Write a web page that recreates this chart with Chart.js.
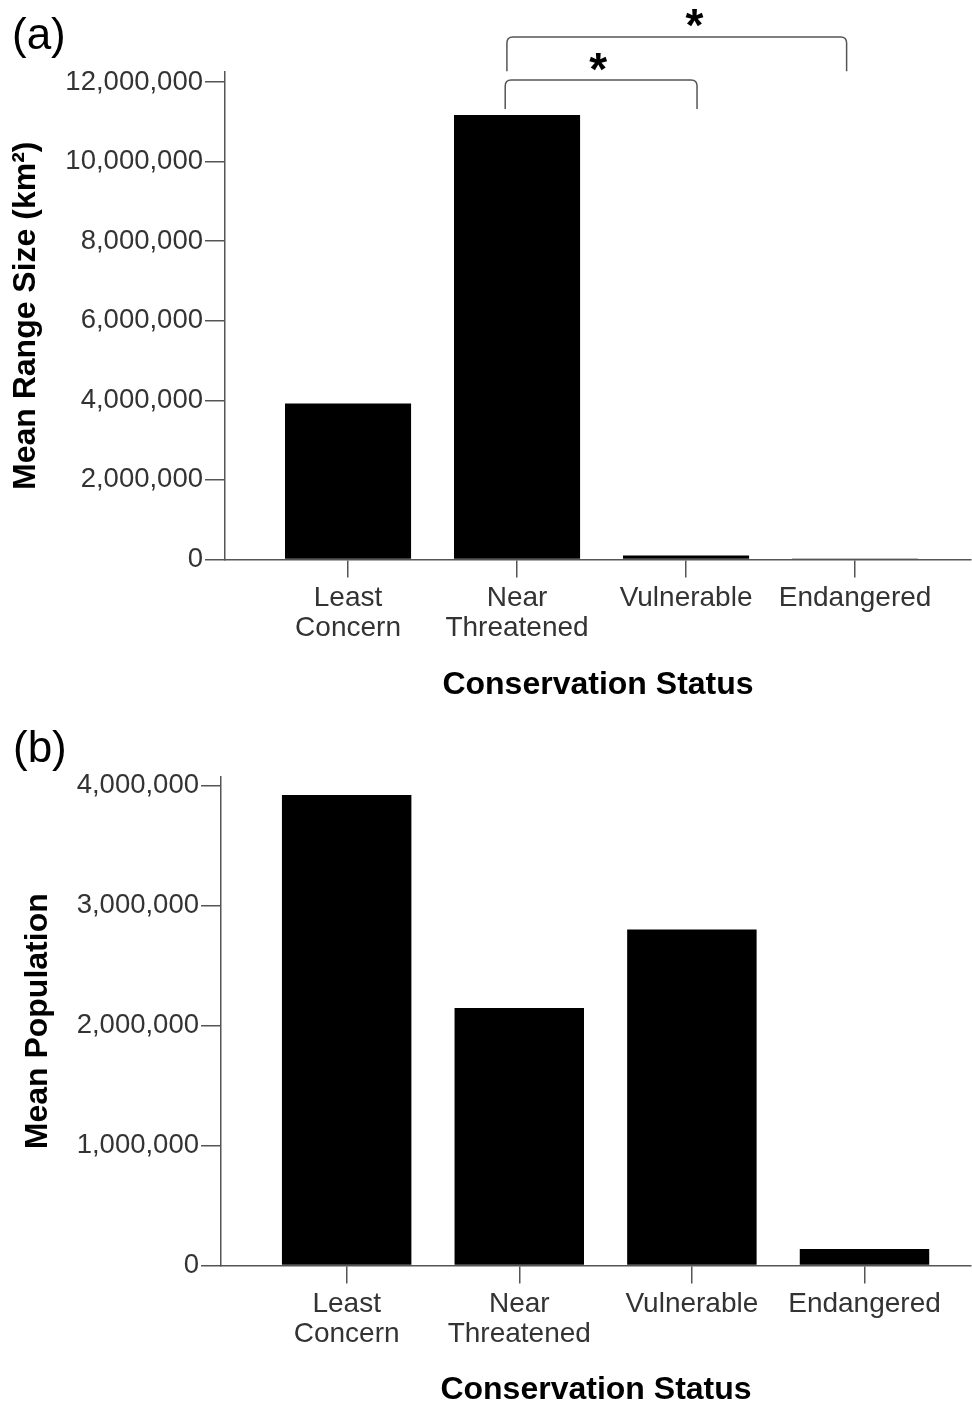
<!DOCTYPE html>
<html>
<head>
<meta charset="utf-8">
<script src="https://cdn.jsdelivr.net/npm/chart.js@4.4.0/dist/chart.umd.min.js"></script>
<style>
  body { margin: 0; background: #fff; }
  #wrapA { position: absolute; left: 0; top: 0; width: 972px; height: 705px; }
  #wrapB { position: absolute; left: 0; top: 705px; width: 972px; height: 698px; }
</style>
</head>
<body>
<div id="wrapA"><canvas id="chartA" width="972" height="705"></canvas></div>
<div id="wrapB"><canvas id="chartB" width="972" height="698"></canvas></div>
<script>
// categories and values
const categories = [['Least', 'Concern'], ['Near', 'Threatened'], 'Vulnerable', 'Endangered'];
const meanRange = [3920000, 11170000, 100000, 25000];
const meanPopulation = [3920000, 2145000, 2800000, 137000];
const rangeTicks = [0, 2000000, 4000000, 6000000, 8000000, 10000000, 12000000];
const populationTicks = [0, 1000000, 2000000, 3000000, 4000000];
// significant differences in range size (category indices)
const significantPairs = [[1, 2], [1, 3]];

const FONT = '"Liberation Sans", Arial, sans-serif';
const axisColor = '#555';
const tickColor = '#333';

Chart.defaults.font.family = FONT;

function fmt(v) {
  return String(v).replace(/\B(?=(\d{3})+(?!\d))/g, ',');
}

// panel letter (a) / (b)
const panelLabel = {
  id: 'panelLabel',
  afterDraw(chart, args, opts) {
    const ctx = chart.ctx;
    ctx.save();
    ctx.font = '44px ' + FONT;
    ctx.fillStyle = '#000';
    ctx.textBaseline = 'alphabetic';
    ctx.fillText(opts.text, opts.x, opts.y);
    ctx.restore();
  }
};

// brackets with asterisks above the bars
const brackets = {
  id: 'brackets',
  afterDraw(chart, args, opts) {
    if (!opts.items) return;
    const { ctx, scales: { x, y } } = chart;
    opts.items.forEach(b => {
      const pair = significantPairs[b.pair];
      const x1 = x.getPixelForValue(pair[0] + b.dl);
      const x2 = x.getPixelForValue(pair[1] + b.dr);
      const yt = y.getPixelForValue(b.top);
      const yb = y.getPixelForValue(b.bottom);
      const r = 6;
      ctx.save();
      ctx.strokeStyle = axisColor;
      ctx.lineWidth = 1.5;
      ctx.beginPath();
      ctx.moveTo(x1, yb);
      ctx.lineTo(x1, yt + r);
      ctx.quadraticCurveTo(x1, yt, x1 + r, yt);
      ctx.lineTo(x2 - r, yt);
      ctx.quadraticCurveTo(x2, yt, x2, yt + r);
      ctx.lineTo(x2, yb);
      ctx.stroke();
      ctx.font = 'bold 46px ' + FONT;
      ctx.fillStyle = '#000';
      ctx.textAlign = 'center';
      ctx.textBaseline = 'alphabetic';
      ctx.fillText('*', x.getPixelForValue(b.starX), y.getPixelForValue(b.starY) + 0.475 * 46);
      ctx.restore();
    });
  }
};

function makeChart(id, values, yTicks, cfg) {
  const ctx = document.getElementById(id).getContext('2d');
  return new Chart(ctx, {
    type: 'bar',
    data: {
      datasets: [{
        data: values.map((v, i) => ({ x: i, y: v })),
        backgroundColor: '#000',
        borderWidth: 0,
        categoryPercentage: 1,
        barPercentage: cfg.barPct
      }]
    },
    options: {
      responsive: false,
      animation: false,
      layout: { padding: { left: 0, right: 1, top: 72, bottom: 0 } },
      plugins: {
        legend: { display: false },
        tooltip: { enabled: false },
        panelLabel: cfg.panel,
        brackets: { items: cfg.brackets }
      },
      scales: {
        x: {
          type: 'linear',
          offset: false,
          min: cfg.xMin,
          max: cfg.xMax,
          afterBuildTicks: s => { s.ticks = categories.map((c, i) => ({ value: i })); },
          afterFit: s => { s.height = cfg.xHeight; },
          grid: { offset: false, drawOnChartArea: false, drawTicks: true, tickLength: 18, color: axisColor, lineWidth: 1.5 },
          border: { color: axisColor, width: 1.5 },
          ticks: {
            autoSkip: false, maxRotation: 0, padding: 6,
            color: tickColor,
            font: { size: 28, lineHeight: 1.07 },
            callback: v => categories[v]
          },
          title: {
            display: true, text: 'Conservation Status', color: '#000',
            font: { size: 32, weight: 'bold', lineHeight: cfg.xTitleLH },
            padding: { top: 0, bottom: cfg.xTitlePad }
          }
        },
        y: {
          min: 0,
          max: cfg.yMax,
          afterBuildTicks: s => { s.ticks = yTicks.map(v => ({ value: v })); },
          afterFit: s => { s.width = cfg.yWidth; },
          grid: { drawOnChartArea: false, drawTicks: true, tickLength: 20, color: axisColor, lineWidth: 1.5 },
          border: { color: axisColor, width: 1.5 },
          ticks: {
            padding: 2, color: tickColor,
            font: { size: 27.5 },
            callback: v => fmt(v)
          },
          title: {
            display: true, text: cfg.yTitle, color: '#000',
            font: { size: 32, weight: 'bold', lineHeight: 1 },
            padding: { top: cfg.yTitlePad, bottom: 0 }
          }
        }
      }
    },
    plugins: [panelLabel, brackets]
  });
}

makeChart('chartA', meanRange, rangeTicks, {
  barPct: 0.746, xMin: -0.728, xMax: 3.686, xHeight: 145.5, xTitlePad: 4, xTitleLH: 1,
  yMax: 12250000, yWidth: 225, yTitle: 'Mean Range Size (km²)', yTitlePad: 10,
  panel: { text: '(a)', x: 12, y: 49 },
  brackets: [
    { pair: 0, dl: -0.07, dr: 0.065, top: 12050000, bottom: 11320000, starX: 1.48, starY: 12475000 },
    { pair: 1, dl: -0.06, dr: -0.05, top: 13130000, bottom: 12270000, starX: 2.05, starY: 13580000 }
  ]
});

makeChart('chartB', meanPopulation, populationTicks, {
  barPct: 0.75, xMin: -0.728, xMax: 3.617, xHeight: 137.5, xTitlePad: 0, xTitleLH: 0.8,
  yMax: 4070000, yWidth: 221, yTitle: 'Mean Population', yTitlePad: 22,
  panel: { text: '(b)', x: 13, y: 57 },
  brackets: []
});
</script>
</body>
</html>
